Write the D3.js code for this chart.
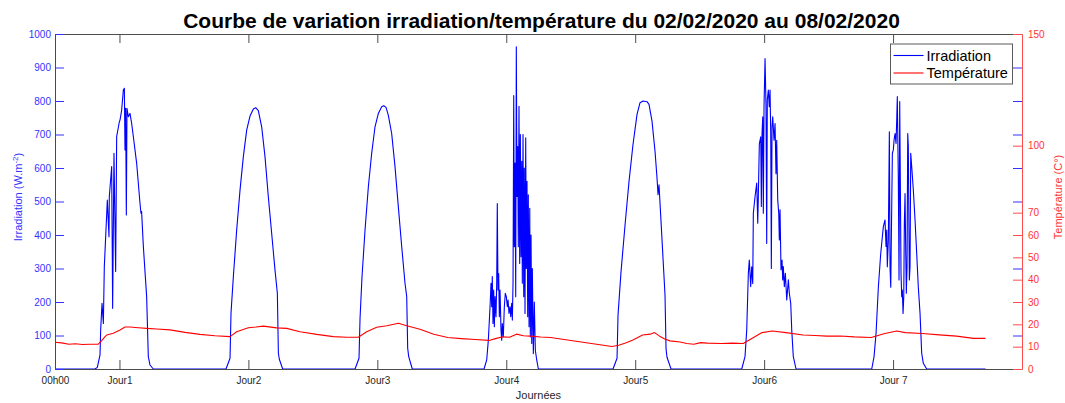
<!DOCTYPE html>
<html>
<head>
<meta charset="utf-8">
<script src="https://cdn.jsdelivr.net/npm/d3@7"></script>
<style>
  body { margin: 0; background: #fff; }
  text { font-family: "Liberation Sans", Arial, Helvetica, sans-serif; }
</style>
</head>
<body>
<svg id="chart" width="1065" height="403"></svg>
<script>
// Time axis in hours from 00h00 on 02/02/2020
const xTickValues = [0, 12, 36, 60, 84, 108, 132, 156];
const xTickLabels = ["00h00", "Jour1", "Jour2", "Jour3", "Jour4", "Jour5", "Jour6", "Jour 7"];
const irrTicks = [0, 100, 200, 300, 400, 500, 600, 700, 800, 900, 1000];
const tempTicks = [0, 10, 20, 30, 40, 50, 60, 70, 100, 150];

// Irradiation (W/m²) per day: [hour, value]
const day1 = [[7.45,0],[7.88,5],[8.38,42],[8.5,116],[8.75,196],[9.0,136],[9.18,305],[9.74,504],[10.05,395],[10.11,514],[10.55,604],[10.73,181],[10.98,644],[11.29,291],[11.48,694],[11.98,738],[12.1,743],[12.41,773],[12.72,833],[12.91,838],[13.03,654],[13.15,778],[13.28,460],[13.4,778],[13.65,753],[13.96,763],[14.27,733],[14.58,694],[15.2,614],[15.82,495],[16.0,465],[16.12,470],[16.45,365],[17.06,216],[17.37,37],[17.68,12],[18.3,0]];
const day2 = [[31.83,0],[32.58,32],[32.76,166],[33.2,276],[33.82,415],[34.44,534],[35.06,634],[35.68,713],[36.3,755],[36.92,776],[37.35,780],[37.85,771],[38.47,723],[39.09,634],[39.71,514],[40.33,405],[40.95,296],[41.39,226],[41.58,47],[41.76,29],[42.38,0]];
const day3 = [[55.85,0],[56.59,32],[56.78,151],[57.15,276],[57.71,415],[58.33,544],[58.95,644],[59.57,723],[60.19,763],[60.81,783],[61.19,786],[61.62,781],[62.04,758],[62.67,703],[63.29,604],[63.91,484],[64.54,365],[65.15,256],[65.47,216],[65.65,62],[65.84,37],[66.51,0]];
const day4 = [[79.86,0],[80.36,27],[80.66,86],[80.98,186],[81.16,256],[81.29,186],[81.4,276],[81.53,136],[81.66,236],[81.78,126],[81.91,216],[82.09,156],[82.22,256],[82.33,494],[82.46,236],[82.59,285],[82.71,156],[82.84,236],[83.02,116],[83.15,86],[83.26,136],[83.45,96],[83.64,186],[83.82,226],[84.01,216],[84.2,186],[84.33,206],[84.51,166],[84.7,186],[84.83,156],[85.01,196],[85.13,146],[85.26,256],[85.39,816],[85.5,365],[85.63,615],[85.76,216],[85.87,962],[86.0,515],[86.13,664],[86.24,365],[86.37,784],[86.5,315],[86.62,700],[86.75,335],[86.88,620],[86.99,256],[87.12,700],[87.25,216],[87.36,600],[87.49,166],[87.62,690],[87.73,300],[87.86,560],[87.99,156],[88.1,520],[88.24,126],[88.37,480],[88.48,96],[88.61,400],[88.74,76],[88.85,300],[89.04,46],[89.22,200],[89.41,56],[89.67,27],[89.97,0]];
const day5 = [[103.87,0],[104.62,32],[104.8,160],[105.36,290],[106.11,430],[106.85,560],[107.59,670],[108.34,760],[108.9,795],[109.46,800],[110.2,798],[110.57,790],[111.13,740],[111.69,650],[112.06,570],[112.25,520],[112.43,550],[112.81,440],[113.18,330],[113.55,220],[113.74,60],[113.92,35],[114.67,0]];
const day6 = [[127.83,0],[128.44,37],[128.76,116],[129.06,286],[129.24,325],[129.5,246],[129.69,305],[129.88,255],[129.99,465],[130.31,515],[130.62,555],[130.81,435],[130.92,515],[131.11,673],[131.37,693],[131.48,485],[131.61,703],[131.74,753],[131.85,465],[131.98,783],[132.17,927],[132.35,783],[132.48,375],[132.59,803],[132.78,833],[132.96,783],[133.1,833],[133.23,703],[133.34,300],[133.47,723],[133.6,753],[133.84,683],[134.03,733],[134.21,583],[134.34,683],[134.53,504],[134.72,465],[134.83,385],[134.96,475],[135.14,296],[135.33,325],[135.46,266],[135.57,306],[135.76,246],[135.95,286],[136.21,206],[136.51,266],[136.69,226],[136.95,196],[137.14,116],[137.43,37],[137.94,0]];
const day7 = [[152.03,0],[152.46,37],[152.83,106],[153.26,244],[153.7,344],[154.19,425],[154.5,445],[154.69,366],[154.82,415],[154.93,305],[155.12,385],[155.31,708],[155.44,300],[155.57,244],[155.87,644],[156.05,654],[156.18,683],[156.37,703],[156.55,673],[156.68,743],[156.79,813],[156.98,565],[157.11,266],[157.24,798],[157.35,565],[157.48,286],[157.61,216],[157.72,236],[157.86,166],[157.99,216],[158.1,435],[158.23,524],[158.36,345],[158.47,226],[158.6,305],[158.73,703],[158.84,664],[159.03,266],[159.16,305],[159.29,644],[159.47,604],[159.77,535],[160.09,445],[160.4,345],[160.7,244],[161.02,166],[161.33,47],[161.63,17],[162.26,0]];
const seriesEnd = 173.21;

// Ambient temperature (°C): [hour, value]
const temperature = [[0,12.0],[1.2,11.7],[2.6,11.1],[3.8,11.3],[5.1,11.0],[6.5,11.1],[8.06,11.1],[8.69,12.7],[9.31,14.5],[9.62,15.2],[10.85,16.0],[12.1,17.5],[13.03,18.8],[13.96,18.8],[15.5,18.5],[17.07,18.2],[18.93,17.9],[21.41,17.5],[24.2,16.4],[26.99,15.5],[29.78,14.9],[32.58,14.5],[33.82,16.7],[35.98,18.5],[37.4,18.8],[38.78,19.2],[41.27,18.4],[43.13,18.2],[45.61,16.7],[48.72,15.5],[51.81,14.5],[54.3,14.2],[56.46,14.2],[58.02,16.7],[59.88,18.7],[61.75,19.4],[63.91,20.5],[65.47,19.4],[67.94,17.8],[70.5,15.6],[73.1,14.1],[75.6,13.6],[78.22,13.2],[80.79,12.8],[82.0,13.6],[83.36,14.4],[84.6,14.2],[85.91,15.6],[87.2,14.9],[88.48,14.7],[90.4,14.3],[92.24,14.1],[95.1,13.1],[97.95,12.1],[100.8,11.1],[103.67,10.1],[104.93,10.6],[106.2,11.6],[107.48,12.9],[109.38,15.2],[110.8,15.6],[111.6,16.3],[112.55,14.7],[113.5,13.4],[114.46,12.6],[116.36,12.1],[117.6,11.4],[118.91,11.1],[120.2,11.8],[121.44,11.6],[124.0,11.4],[126.1,11.6],[128.11,11.4],[129.71,13.7],[131.61,16.3],[133.51,17.0],[136.06,16.3],[139.24,15.2],[141.5,15.0],[143.67,14.7],[146.2,14.8],[148.75,14.4],[151.94,14.1],[154.47,15.9],[156.7,17.0],[158.28,16.3],[161.47,15.9],[164.6,15.3],[167.81,14.7],[170.98,13.7],[173.21,13.7]];

const irradiation = [[0, 0], ...day1, ...day2, ...day3, ...day4, ...day5, ...day6, ...day7, [seriesEnd, 0]];

const svg = d3.select("#chart");
const plotLeft = 55, plotRight = 1022, plotTop = 34, plotBottom = 369;
const BLUE = "#0000ff", RED = "#ff0000", GREY = "#262626";

const x = d3.scaleLinear().domain([0, 180]).range([plotLeft, plotRight]);
const yIrr = d3.scaleLinear().domain([0, 1000]).range([plotBottom, plotTop]);
const yTemp = d3.scaleLinear().domain([0, 150]).range([plotBottom, plotTop]);

// Title
svg.append("text")
  .attr("x", 541.5).attr("y", 28)
  .attr("text-anchor", "middle")
  .attr("font-size", 21).attr("font-weight", "bold").attr("fill", "#000")
  .text("Courbe de variation irradiation/température du 02/02/2020 au 08/02/2020");

// Data lines
svg.append("path")
  .datum(irradiation)
  .attr("fill", "none").attr("stroke", BLUE).attr("stroke-width", 1.1)
  .attr("stroke-linejoin", "round")
  .attr("d", d3.line().x(d => x(d[0])).y(d => yIrr(d[1])));
svg.append("path")
  .datum(temperature)
  .attr("fill", "none").attr("stroke", RED).attr("stroke-width", 1.1)
  .attr("stroke-linejoin", "round")
  .attr("d", d3.line().x(d => x(d[0])).y(d => yTemp(d[1])));

function styleAxis(g, color, textColor) {
  g.selectAll(".tick line").attr("stroke", color);
  g.select(".domain").attr("stroke", color);
  g.selectAll("text").attr("fill", textColor).attr("font-size", 10)
    .attr("font-family", "'Liberation Sans', Arial, sans-serif");
}

// Bottom time axis (ticks point inward)
const gx = svg.append("g").attr("transform", `translate(0,${plotBottom})`)
  .call(d3.axisBottom(x).tickValues(xTickValues)
    .tickFormat((d, i) => xTickLabels[i])
    .tickSizeInner(-9).tickSizeOuter(0).tickPadding(8));
styleAxis(gx, "#4d4d4d", GREY);

// Top border with mirrored ticks
const gxTop = svg.append("g").attr("transform", `translate(0,${plotTop})`)
  .call(d3.axisTop(x).tickValues(xTickValues).tickFormat("")
    .tickSizeInner(-9).tickSizeOuter(0));
styleAxis(gxTop, "#4d4d4d", GREY);

// Left irradiation axis
const gyL = svg.append("g").attr("transform", `translate(${plotLeft},0)`)
  .call(d3.axisLeft(yIrr).tickValues(irrTicks).tickFormat(d3.format("d"))
    .tickSizeInner(-9).tickSizeOuter(0).tickPadding(4));
styleAxis(gyL, "#3333ff", "#3333ff");

// Irradiation ticks mirrored on the right edge
const gyLm = svg.append("g").attr("transform", `translate(${plotRight},0)`)
  .call(d3.axisRight(yIrr).tickValues(irrTicks.slice(1, -1)).tickFormat("")
    .tickSizeInner(-9).tickSizeOuter(0));
styleAxis(gyLm, "#3333ff", "#3333ff");
gyLm.select(".domain").remove();

// Right temperature axis
const gyR = svg.append("g").attr("transform", `translate(${plotRight},0)`)
  .call(d3.axisRight(yTemp).tickValues(tempTicks).tickFormat(d3.format("d"))
    .tickSizeInner(-9).tickSizeOuter(0).tickPadding(6));
styleAxis(gyR, "#ff4d4d", "#ff3333");

// Axis titles
svg.append("text")
  .attr("x", 538.5).attr("y", 399)
  .attr("text-anchor", "middle").attr("font-size", 11).attr("fill", GREY)
  .text("Journées");

const yl = svg.append("text")
  .attr("transform", "translate(22,197) rotate(-90)")
  .attr("text-anchor", "middle").attr("font-size", 11).attr("fill", "#3333ff");
yl.append("tspan").text("Irradiation (W.m");
yl.append("tspan").attr("font-size", 8).attr("dy", -4).text("-2");
yl.append("tspan").attr("dy", 4).text(")");

svg.append("text")
  .attr("transform", "translate(1062,197) rotate(-90)")
  .attr("text-anchor", "middle").attr("font-size", 11).attr("fill", "#ff3333")
  .text("Température (C°)");

// Legend
const lg = svg.append("g").attr("transform", "translate(890.5,44)");
lg.append("rect").attr("width", 122).attr("height", 40)
  .attr("fill", "#fff").attr("stroke", "#5a5a5a").attr("stroke-width", 1);
const legendItems = [{ name: "Irradiation", color: BLUE }, { name: "Température", color: RED }];
legendItems.forEach((it, i) => {
  const yy = 11.5 + i * 17.5;
  lg.append("line").attr("x1", 3).attr("x2", 33).attr("y1", yy).attr("y2", yy)
    .attr("stroke", it.color).attr("stroke-width", 1.1);
  lg.append("text").attr("x", 36).attr("y", yy + 5).attr("font-size", 14.5)
    .attr("fill", "#000").text(it.name);
});
</script>
</body>
</html>
